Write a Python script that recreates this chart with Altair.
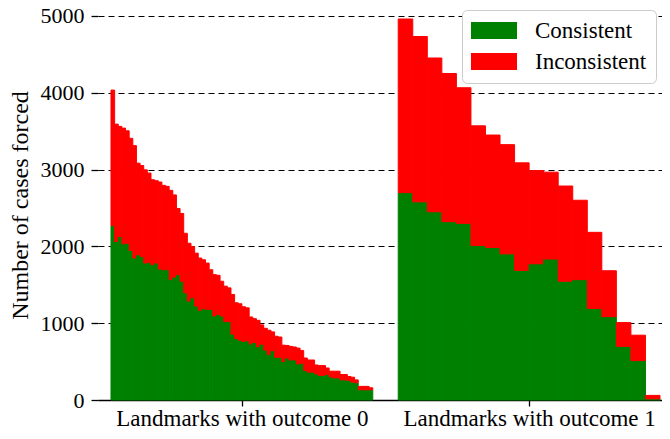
import altair as alt
import pandas as pd

# ---- data ----
group_labels = ["Landmarks with outcome 0", "Landmarks with outcome 1"]
series_names = ["Consistent", "Inconsistent"]
series_colors = ["#008000", "#ff0000"]

left_consistent = [
    2270, 2063, 2128, 2033, 2041, 1946, 1848, 1890, 1869, 1783, 1792, 1761,
    1783, 1705, 1696, 1696, 1567, 1600, 1632, 1546, 1395, 1288, 1331, 1223,
    1167, 1189, 1180, 1180, 1094, 1115, 1094, 1021, 1021, 857, 800, 779,
    762, 771, 730, 749, 694, 727, 650, 590, 642, 556, 556, 500,
    547, 521, 521, 469, 478, 384, 362, 362, 340, 319, 319, 332,
    300, 288, 288, 262, 262, 254, 233, 224, 133, 133, 133, 133,
]
left_total = [
    4035, 3592, 3562, 3540, 3505, 3407, 3312, 3084, 3053, 2997, 2955, 2868,
    2855, 2838, 2795, 2782, 2730, 2670, 2494, 2429, 2171, 2041, 1998, 1912,
    1848, 1826, 1783, 1696, 1632, 1624, 1546, 1482, 1460, 1374, 1266, 1253,
    1214, 1200, 1081, 1059, 1037, 978, 934, 908, 887, 830, 820, 714,
    710, 698, 690, 676, 645, 547, 521, 521, 456, 448, 448, 417,
    375, 375, 375, 332, 332, 306, 297, 262, 177, 177, 177, 159,
]
right_consistent = [2700, 2580, 2451, 2322, 2300, 2011, 1986, 1903, 1688,
                    1774, 1835, 1546, 1567, 1193, 1085, 698, 513, 15]
right_total = [4961, 4733, 4453, 4251, 4066, 3570, 3450, 3325, 3088,
               2988, 2967, 2786, 2601, 2183, 1683, 1008, 844, 60]

y_ticks = [0, 1000, 2000, 3000, 4000, 5000]

# ---- build table ----
LEFT_W = 1          # width of one left bar (units)
RIGHT_W = 4         # width of one right bar (units)
GAP = 7             # gap between the groups (units)

rows = []
for i, (c, t) in enumerate(zip(left_consistent, left_total)):
    x0 = i * LEFT_W
    rows.append(dict(x0=x0, x1=x0 + LEFT_W, series=series_names[0], value=c, k=0))
    rows.append(dict(x0=x0, x1=x0 + LEFT_W, series=series_names[1], value=t - c, k=1))
right_start = len(left_total) * LEFT_W + GAP
for j, (c, t) in enumerate(zip(right_consistent, right_total)):
    x0 = right_start + j * RIGHT_W
    rows.append(dict(x0=x0, x1=x0 + RIGHT_W, series=series_names[0], value=c, k=0))
    rows.append(dict(x0=x0, x1=x0 + RIGHT_W, series=series_names[1], value=t - c, k=1))
df = pd.DataFrame(rows)

left_end = len(left_total) * LEFT_W
right_end = right_start + len(right_total) * RIGHT_W
centers = [left_end / 2, (right_start + right_end) / 2]
label_expr = (f"datum.value < {(left_end + right_start) / 2} ? "
              f"'{group_labels[0]}' : '{group_labels[1]}'")

FONT = "Liberation Serif"

x_scale = alt.Scale(domain=[-3.575, right_end + 0.55], nice=False, zero=False)
y_scale = alt.Scale(domain=[0, 5078], nice=False)
c_scale = alt.Scale(domain=series_names, range=series_colors)

chart = (
    alt.Chart(df)
    .transform_stack(stack="value", groupby=["x0"], as_=["y0", "y1"],
                     sort=[alt.SortField("k", order="ascending")])
    .mark_rect(strokeWidth=1)
    .encode(
        x=alt.X("x0:Q", scale=x_scale,
                axis=alt.Axis(values=centers, labelExpr=label_expr, title=None,
                              grid=False, domainColor="black", domainWidth=1.3,
                              tickColor="black", tickWidth=1.3, tickSize=6,
                              labelFont=FONT, labelFontSize=23, labelColor="black",
                              labelPadding=1, labelFlush=False, labelOverlap=False,
                              labelLimit=0)),
        x2="x1:Q",
        y=alt.Y("y0:Q", scale=y_scale,
                axis=alt.Axis(values=y_ticks, format="d",
                              title="Number of cases forced",
                              grid=True, gridColor="black", gridDash=[6, 4],
                              gridWidth=1.2, domain=False, tickColor="black",
                              tickWidth=1.3, tickSize=7, labelFont=FONT,
                              labelFontSize=22, labelColor="black", labelPadding=7,
                              titleFont=FONT, titleFontSize=24,
                              titleFontWeight="normal", titleColor="black",
                              titlePadding=8)),
        y2="y1:Q",
        stroke=alt.Stroke("series:N", scale=c_scale, legend=None),
        color=alt.Color(
            "series:N",
            scale=c_scale,
            legend=alt.Legend(
                title=None, orient="none", legendX=364, legendY=0,
                symbolType="M-1,-0.74L3,-0.74L3,0.74L-1,0.74Z",
                symbolSize=529, symbolStrokeWidth=0, symbolOpacity=1,
                labelFont=FONT, labelFontSize=23, labelColor="black",
                labelOffset=41, padding=9, rowPadding=7,
                strokeColor="#cccccc", fillColor="white", cornerRadius=5,
            ),
        ),
    )
    .properties(
        width=564, height=390,
        autosize=alt.AutoSizeParams(type="none"),
        padding={"left": 90, "top": 2, "right": 0, "bottom": 31},
    )
    .configure_view(stroke=None)
)

chart.save("out.html", embed_options={"renderer": "svg", "actions": False})
